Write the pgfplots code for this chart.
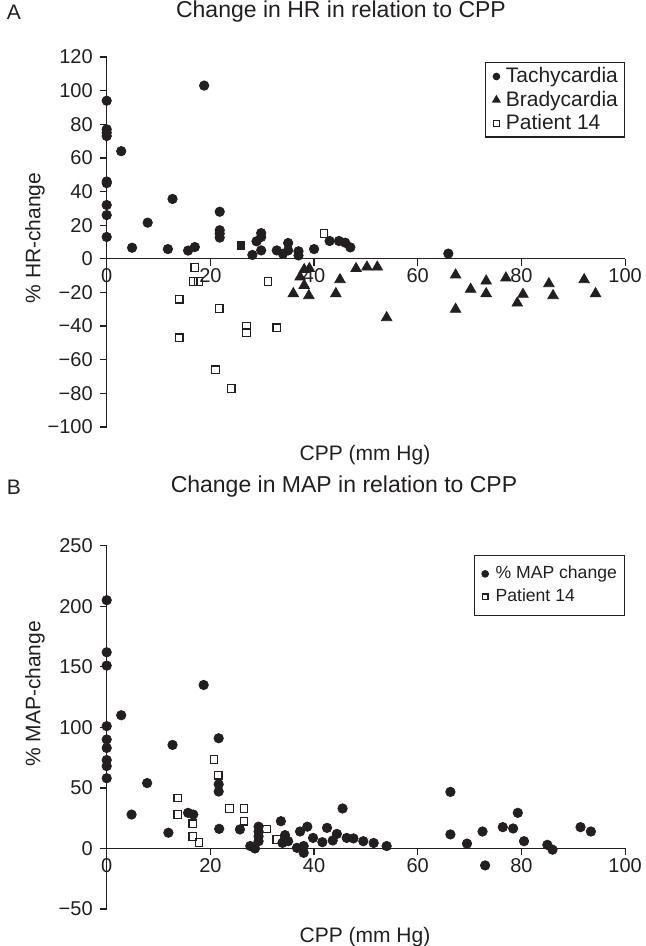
\documentclass[border=0pt]{standalone}
\usepackage{fontspec}
\setmainfont{Liberation Sans}
\usepackage{pgfplots}
\pgfplotsset{compat=1.18}
\definecolor{ink}{RGB}{35,31,32}
\pgfplotsset{
  panel/.style={
    scale only axis, width=259.2pt,
    xmin=0, xmax=100,
    axis x line=middle, axis y line=left,
    axis line style={-, ink, line width=0.6pt},
    tick style={ink, line width=0.6pt},
    tick align=outside, major tick length=3.5pt,
    xtick={0,20,40,60,80,100},
    xticklabels={0,20,40,60,80,100},
    x tick label style={yshift=2pt},
    hide obscured x ticks=false, hide obscured y ticks=false,
    tick label style={font=\fontsize{10}{12}\selectfont, text=ink},
    clip=false,
    legend cell align=left,
    legend style={draw=ink, line width=0.6pt, text=ink, anchor=north east,
      inner xsep=2pt, inner ysep=1pt, row sep=0pt},
    legend image code/.code={\path[draw=none] (0,0) -- (0.24cm,0);
      \draw[#1] plot coordinates {(0.12cm,0cm)};},
  },
  dot/.style={only marks, mark=*, mark size=2.35pt, mark options={fill=ink, draw=ink},
    legend image post style={mark size=1.6pt}},
  tri/.style={only marks, mark=triangle*, mark size=3pt, mark options={fill=ink, draw=ink},
    legend image post style={mark size=2pt}},
  box/.style={only marks, mark=square, mark size=1.9pt,
    mark options={fill=white, draw=ink, line width=0.6pt},
    legend image post style={mark size=1.4pt}},
}
\begin{document}
\begin{tikzpicture}
\useasboundingbox (0,0) rectangle (322.5pt,-473pt);

% panel A
\node[text=ink, font=\fontsize{10.5}{12}\selectfont] at (7pt,-6pt) {A};
\node[text=ink, font=\fontsize{11.5}{13}\selectfont] at (170.5pt,-6pt) {Change in HR in relation to CPP};
\node[text=ink, font=\fontsize{10.5}{12}\selectfont, rotate=90] at (17.5pt,-119pt) {\% HR-change};
\node[text=ink, font=\fontsize{10.5}{12}\selectfont] at (182.5pt,-227.5pt) {CPP (mm Hg)};

\begin{axis}[panel, at={(53.35pt,-213.5pt)}, anchor=south west, height=185pt,
  ymin=-100, ymax=120,
  ytick={-100,-80,-60,-40,-20,0,20,40,60,80,100,120},
  yticklabels={−100,−80,−60,−40,−20,0,20,40,60,80,100,120},
  legend style={at={(1,0.986)}, font=\fontsize{10.5}{12}\selectfont,
    nodes={inner sep=1.3pt}}]
\addplot[dot] coordinates {
  (0,94) (0,77) (0,75) (0,73) (0,46) (0,45) (0,32) (0,26) (0,13)
  (2.8,64) (18.8,103) (12.7,35.6) (7.9,21.5) (4.9,6.6) (11.8,5.8)
  (15.7,4.9) (17,7) (21.8,28) (21.8,17) (21.8,15) (21.8,12.6)
  (28.1,2.3) (28.9,10.4) (29.8,15.3) (29.8,13) (29.8,5) (32.8,5)
  (34,3) (35,9.4) (35,5) (37,4.5) (37,2) (40,5.8) (43,10.6)
  (44.8,10.6) (46,9.6) (47,6.8) (65.9,3.1)
};
\addlegendentry{Tachycardia}
\addplot[tri] coordinates {
  (38.1,-6.4) (39.1,-5.8) (37.3,-10.8) (38.1,-15.8) (36,-20.7) (39,-21.9)
  (45,-12.4) (44.2,-20.7) (48.1,-5.8) (50.2,-4.9) (52.2,-4.9) (54,-35)
  (67.3,-9.6) (67.3,-30) (70.2,-18.1) (73.2,-13.2) (73.2,-20.7) (77,-11.4)
  (79.2,-26.3) (80.3,-21.1) (85.3,-14.8) (86.1,-21.9) (92.1,-12.4) (94.3,-20.7)
};
\addlegendentry{Bradycardia}
\addplot[box] coordinates {
  (14,-24) (14,-47) (17,-5.2) (16.7,-13.5) (17.7,-13.5) (21.7,-29.5)
  (21,-66) (24,-77) (27,-40) (27,-44) (31.1,-13.5) (32.8,-41) (41.9,15)
};
\addlegendentry{Patient 14}
\addplot[only marks, mark=square*, mark size=1.9pt, mark options={fill=ink, draw=ink}, forget plot]
  coordinates {(25.9,8)};
\end{axis}

% panel B
\node[text=ink, font=\fontsize{10.5}{12}\selectfont] at (7pt,-243.5pt) {B};
\node[text=ink, font=\fontsize{11.5}{13}\selectfont] at (172pt,-243.5pt) {Change in MAP in relation to CPP};
\node[text=ink, font=\fontsize{10.5}{12}\selectfont, rotate=90] at (17.5pt,-347pt) {\% MAP-change};
\node[text=ink, font=\fontsize{10.5}{12}\selectfont] at (182.5pt,-468.5pt) {CPP (mm Hg)};

\begin{axis}[panel, at={(53.35pt,-454.5pt)}, anchor=south west, height=181.65pt,
  ymin=-50, ymax=250,
  ytick={-50,0,50,100,150,200,250},
  yticklabels={−50,0,50,100,150,200,250},
  legend style={at={(1,0.975)}, font=\fontsize{8.8}{10.5}\selectfont,
    nodes={inner sep=1.8pt}, inner ysep=3.5pt}]
\addplot[dot] coordinates {
  (0,205) (0,162) (0,151) (0,101) (0,90) (0,83) (0,73) (0,68) (0,58)
  (2.8,110) (18.7,135) (12.7,85.5) (7.8,54) (21.6,91) (21.6,53) (21.6,47)
  (4.8,28) (15.7,29.4) (16.7,28) (45.5,33) (33.6,22.5) (11.9,13)
  (21.7,16.2) (25.7,15.7) (29.3,18) (29.3,14) (29.3,10) (29.3,6)
  (27.7,2) (28.6,0) (34.4,11) (35,6) (33.9,4.6) (36.7,0.5) (38,-3.6)
  (38,2) (37.3,14) (38.7,18) (39.8,8.7) (41.6,5.2) (42.5,17) (43.6,6.6)
  (44.4,12) (46.3,8.7) (47.6,8.3) (49.5,6) (51.5,4.5) (54,2)
  (66.3,46.7) (66.3,11.6) (69.5,4) (72.5,14) (73,-14) (76.4,17.6)
  (78.4,16.5) (79.3,29.4) (80.5,6) (85,3) (86,-1) (91.4,17.6) (93.4,14)
};
\addlegendentry{\% MAP change}
\addplot[box] coordinates {
  (13.7,41.7) (13.7,28) (16.6,20.3) (16.6,10) (17.8,5) (20.7,73.4)
  (21.5,60.5) (23.7,33) (26.5,33) (26.5,22.5) (30.8,16) (32.8,7.4)
};
\addlegendentry{Patient 14}
\end{axis}
\end{tikzpicture}
\end{document}
